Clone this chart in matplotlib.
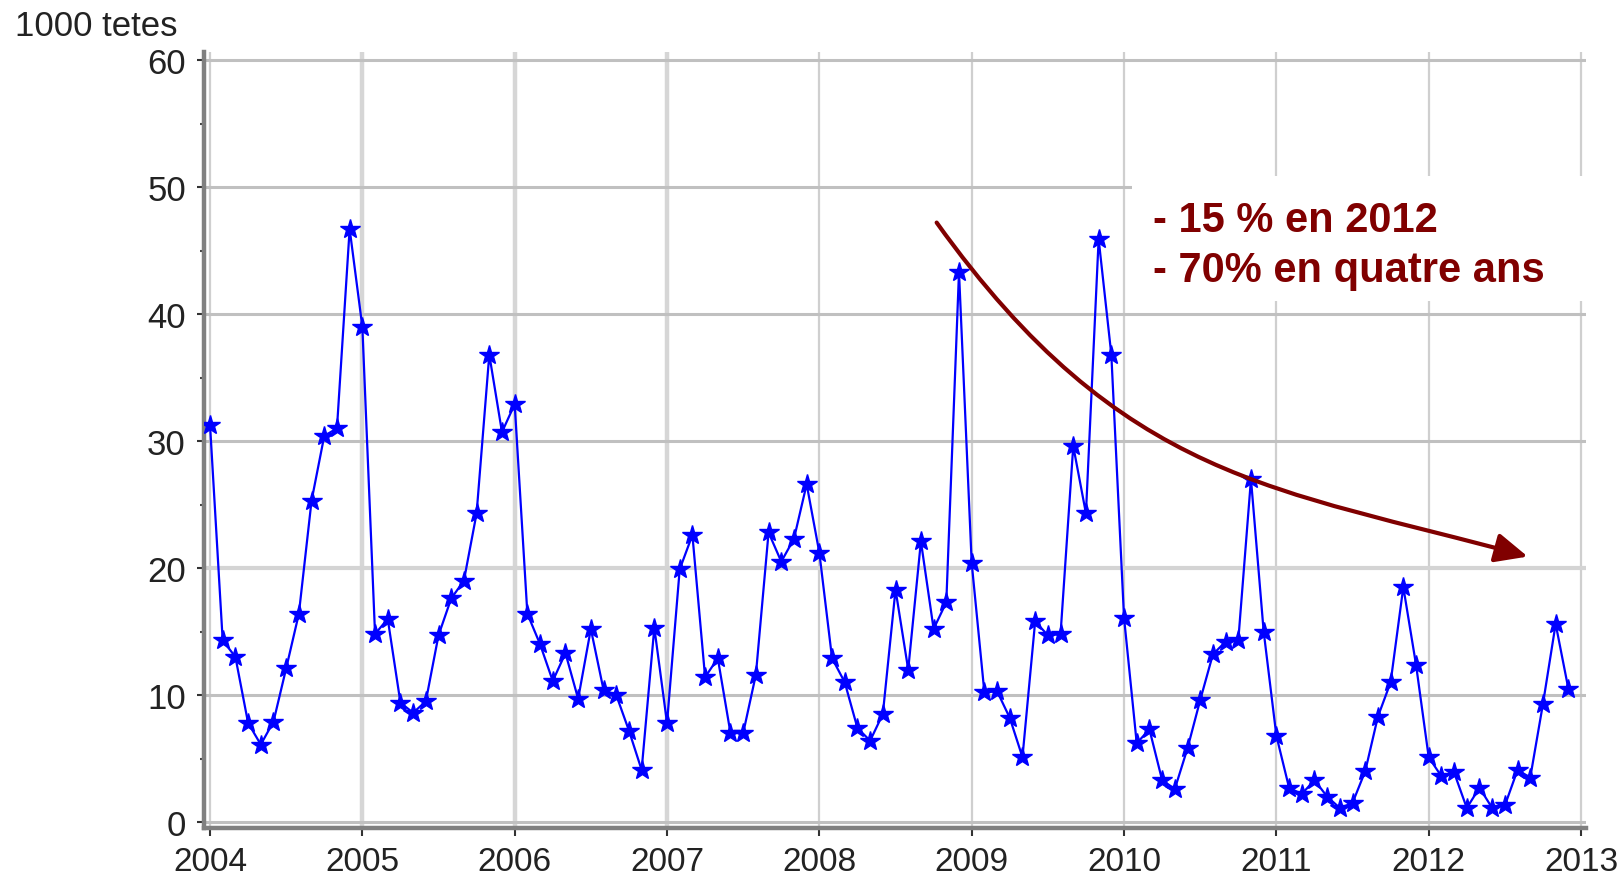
import numpy as np
import matplotlib.pyplot as plt
from matplotlib.patches import Rectangle, FancyArrowPatch
from matplotlib.path import Path


# monthly values, thousands of heads, Jan 2004 .. Dec 2012
v2004 = [31.3, 14.3, 13.0, 7.8, 6.1, 7.9, 12.1, 16.4, 25.3, 30.4, 31.0, 46.7]
v2005 = [39.0, 14.8, 16.0, 9.4, 8.6, 9.5, 14.7, 17.6, 19.0, 24.3, 36.8, 30.7]
v2006 = [32.9, 16.4, 14.0, 11.1, 13.3, 9.7, 15.2, 10.4, 10.0, 7.2, 4.1, 15.3]
v2007 = [7.8, 19.9, 22.6, 11.4, 12.9, 7.0, 7.0, 11.6, 22.8, 20.5, 22.3, 26.6]
v2008 = [21.2, 12.9, 11.0, 7.4, 6.4, 8.5, 18.3, 12.0, 22.1, 15.2, 17.3, 43.3]
v2009 = [20.4, 10.2, 10.3, 8.2, 5.1, 15.8, 14.7, 14.8, 29.6, 24.3, 45.9, 36.8]
v2010 = [16.1, 6.2, 7.3, 3.3, 2.6, 5.8, 9.6, 13.2, 14.2, 14.3, 27.0, 15.0]
v2011 = [6.8, 2.7, 2.2, 3.3, 2.0, 1.1, 1.5, 4.0, 8.3, 11.0, 18.5, 12.4]
v2012 = [5.1, 3.6, 3.9, 1.1, 2.7, 1.1, 1.3, 4.1, 3.5, 9.3, 15.6, 10.5]

values = v2004 + v2005 + v2006 + v2007 + v2008 + v2009 + v2010 + v2011 + v2012
months = 2004 + np.arange(len(values)) / 12.0

years = list(range(2004, 2014))
yticks = [0, 10, 20, 30, 40, 50, 60]

# trend arrow (cubic curve: start, two control points, tip)
arrow_x = [2008.77, 2009.99, 2011.00, 2012.65]
arrow_y = [47.2, 26.8, 26.3, 20.9]

note1 = '- 15 % en 2012'
note2 = '- 70% en quatre ans'

red = '#800000'
plt.rcParams['font.family'] = ['Liberation Sans', 'DejaVu Sans']

fig = plt.figure(figsize=(16.24, 8.79), dpi=100)
ax = fig.add_axes([0.12556, 0.05648, 0.8508, 0.88277])

ax.plot(months, values, color='#0000ff', lw=1.6, marker='*', ms=15,
        mfc='#0000ff', mec='#0000ff', mew=1, zorder=3)

ax.set_xlim(2003.96, 2013.03)
ax.set_ylim(-0.5, 60.6)
ax.set_xticks(years)
ax.set_yticks(yticks)
ax.set_yticks(np.arange(5, 60, 10), minor=True)

# grid
ax.set_axisbelow(True)
ax.grid(True, axis='y', color='#c0c0c0', lw=2.2)
ax.grid(True, axis='x', color='#cfcfcf', lw=1.6)
for yr, gl in zip(years, ax.get_xgridlines()):
    if yr in (2005, 2006, 2007):
        gl.set_linewidth(3.2)
        gl.set_color('#d6d6d6')
for y, gl in zip(yticks, ax.get_ygridlines()):
    if y == 20:
        gl.set_color('#d4d4d4')
        gl.set_linewidth(3.0)

for s in ['top', 'right']:
    ax.spines[s].set_visible(False)
for s in ['left', 'bottom']:
    ax.spines[s].set_color('#808080')
    ax.spines[s].set_linewidth(3.2)

ax.tick_params(axis='both', which='major', direction='out', length=5, width=1.5,
               colors='#333333', labelcolor='#222222')
ax.tick_params(axis='y', which='major', labelsize=25, pad=8)
ax.tick_params(axis='x', which='major', labelsize=24, pad=7, length=6)
ax.tick_params(axis='y', which='minor', direction='out', length=3, width=1.5, colors='#444444')

# white box behind the note
ax.add_patch(Rectangle((2010.05, 41.0), 3.2, 9.9, facecolor='white', edgecolor='none',
                       zorder=1, clip_on=False))

curve = Path(list(zip(arrow_x, arrow_y)),
             [Path.MOVETO, Path.CURVE4, Path.CURVE4, Path.CURVE4])
arrow = FancyArrowPatch(path=curve, arrowstyle='-|>,head_length=0.55,head_width=0.25',
                        mutation_scale=36, color=red, lw=3, zorder=4)
ax.add_patch(arrow)

fig.text(0.71, 1 - 232 / 879, note1, color=red, fontsize=30, fontweight='bold', va='baseline')
fig.text(0.71, 1 - 282 / 879, note2, color=red, fontsize=30, fontweight='bold', va='baseline')

fig.text(15 / 1624, 1 - 36 / 879, '1000 tetes', fontsize=25, color='#222222', va='baseline')

plt.savefig('out.png', dpi=100)
